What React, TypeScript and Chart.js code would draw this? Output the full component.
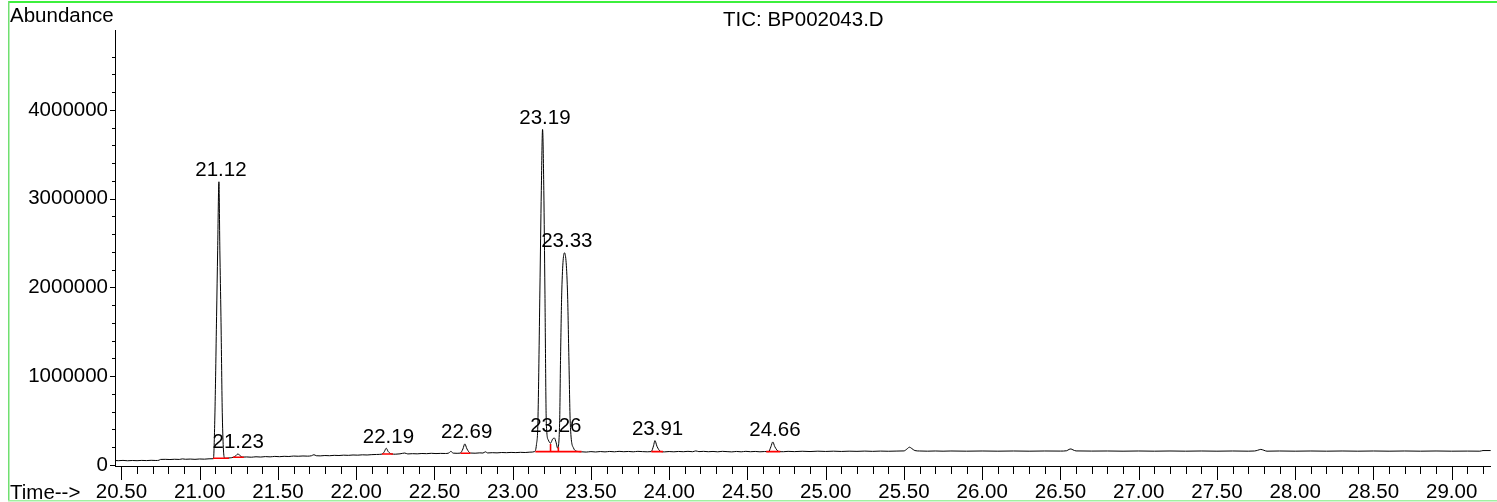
import React, { useEffect, useRef } from 'react';
import { Chart, registerables } from 'chart.js';

Chart.register(...registerables);

const FONT = '"Liberation Sans", Arial, Helvetica, sans-serif';
const FS = 20.5;

// ---- axis ranges / tick labels ----
const X_MIN = 20.459;
const X_MAX = 29.25;
const Y_MIN = -12000;
const Y_MAX = 4900000;
const X_TICK_LABELS = ['20.50', '21.00', '21.50', '22.00', '22.50', '23.00', '23.50', '24.00', '24.50', '25.00', '25.50', '26.00', '26.50', '27.00', '27.50', '28.00', '28.50', '29.00'];
const Y_TICK_LABELS = ['0', '1000000', '2000000', '3000000', '4000000'];

// ---- TIC trace: [time (min), abundance] ----
const TRACE_POINTS: [number, number][] = [
  [20.459, 50000], [20.48, 48000], [20.51, 51000], [20.54, 47000], [20.57, 50000], [20.60, 48000],
  [20.63, 51000], [20.66, 49000], [20.69, 52000], [20.72, 50000], [20.74, 53000], [20.75, 62000],
  [20.78, 63000], [20.81, 61000], [20.84, 64000], [20.87, 62000], [20.89, 68000], [20.91, 64000],
  [20.94, 66000], [20.97, 63000], [21.00, 67000], [21.03, 65000], [21.06, 69000], [21.088, 70000],
  [21.097, 540000], [21.108, 1670000], [21.115, 2420000], [21.123, 3190000], [21.129, 2420000],
  [21.136, 1670000], [21.145, 540000], [21.159, 75000],
  [21.175, 76000], [21.195, 80000], [21.215, 86000], [21.232, 105000], [21.245, 124000], [21.258, 104000],
  [21.275, 88000], [21.30, 90000], [21.33, 87000], [21.36, 92000], [21.39, 89000], [21.42, 94000],
  [21.45, 91000], [21.48, 96000], [21.51, 93000], [21.54, 97000], [21.57, 95000], [21.60, 100000],
  [21.63, 98000], [21.66, 101000], [21.69, 99000], [21.715, 104000], [21.73, 115000], [21.745, 104000],
  [21.77, 102000], [21.80, 106000], [21.83, 104000], [21.86, 108000], [21.89, 106000], [21.92, 110000],
  [21.95, 108000], [21.98, 112000], [22.01, 110000], [22.04, 114000], [22.07, 112000], [22.10, 116000],
  [22.13, 118000], [22.165, 122000], [22.180, 150000], [22.192, 188000], [22.205, 150000], [22.225, 124000],
  [22.25, 121000], [22.28, 125000], [22.31, 134000], [22.33, 124000], [22.36, 127000], [22.39, 125000],
  [22.42, 129000], [22.45, 127000], [22.48, 131000], [22.51, 128000], [22.54, 130000], [22.57, 129000],
  [22.59, 133000], [22.605, 152000], [22.62, 133000], [22.645, 131000], [22.665, 133000], [22.682, 180000],
  [22.694, 237000], [22.708, 180000], [22.73, 134000], [22.76, 132000], [22.79, 136000], [22.81, 134000],
  [22.826, 148000], [22.84, 135000], [22.87, 138000], [22.90, 136000], [22.93, 140000], [22.96, 138000],
  [22.99, 141000], [23.02, 139000], [23.05, 142000], [23.08, 140000], [23.11, 144000], [23.14, 150000],
  [23.152, 230000], [23.161, 470000], [23.174, 1970000], [23.183, 3090000], [23.191, 3780000],
  [23.199, 3090000], [23.206, 1970000], [23.215, 470000], [23.228, 280000], [23.242, 245000],
  [23.255, 290000], [23.266, 304000], [23.278, 250000], [23.287, 190000], [23.300, 470000],
  [23.306, 1220000], [23.314, 1970000], [23.331, 2390000], [23.350, 1970000], [23.359, 1220000],
  [23.368, 470000], [23.389, 190000], [23.415, 152000],
  [23.44, 148000], [23.47, 145000], [23.50, 150000], [23.53, 146000], [23.56, 151000], [23.59, 147000],
  [23.62, 152000], [23.65, 148000], [23.68, 153000], [23.71, 149000], [23.74, 152000], [23.77, 148000],
  [23.80, 153000], [23.83, 150000], [23.86, 148000], [23.885, 150000], [23.900, 215000], [23.909, 274000],
  [23.922, 210000], [23.945, 152000], [23.97, 147000], [24.00, 151000], [24.03, 148000], [24.06, 152000],
  [24.09, 149000], [24.12, 153000], [24.15, 149000], [24.17, 158000], [24.19, 150000], [24.22, 153000],
  [24.25, 149000], [24.28, 152000], [24.31, 148000], [24.34, 153000], [24.37, 150000], [24.40, 147000],
  [24.43, 152000], [24.46, 148000], [24.49, 153000], [24.52, 149000], [24.55, 152000], [24.58, 148000],
  [24.61, 151000], [24.635, 150000], [24.650, 205000], [24.662, 259000], [24.675, 205000], [24.70, 152000],
  [24.73, 149000], [24.76, 153000], [24.80, 150000], [24.85, 154000], [24.90, 151000], [24.95, 155000],
  [25.00, 152000], [25.05, 155000], [25.10, 152000], [25.15, 155000], [25.20, 153000], [25.25, 156000],
  [25.30, 153000], [25.35, 156000], [25.40, 154000], [25.45, 156000], [25.50, 158000], [25.52, 180000],
  [25.535, 200000], [25.55, 185000], [25.57, 162000], [25.60, 157000], [25.65, 155000], [25.70, 157000],
  [25.75, 155000], [25.80, 157000], [25.90, 155000], [26.00, 157000], [26.10, 155000], [26.20, 157000],
  [26.30, 155000], [26.40, 157000], [26.50, 156000], [26.54, 160000], [26.555, 175000], [26.567, 180000],
  [26.58, 170000], [26.60, 158000], [26.70, 156000], [26.80, 157000], [26.90, 155000], [27.00, 157000],
  [27.10, 155000], [27.20, 157000], [27.30, 155000], [27.40, 157000], [27.50, 155000], [27.60, 157000],
  [27.70, 155000], [27.74, 157000], [27.76, 165000], [27.78, 175000], [27.80, 165000], [27.82, 155000],
  [27.90, 157000], [28.00, 155000], [28.10, 157000], [28.20, 155000], [28.30, 157000], [28.40, 155000],
  [28.50, 157000], [28.60, 155000], [28.70, 157000], [28.80, 155000], [28.90, 157000], [29.00, 155000],
  [29.10, 156000], [29.18, 155000], [29.20, 162000], [29.25, 162000],
];

// ---- integration baselines (red): [start, end, level] ----
const INTEGRATION_SEGMENTS: [number, number, number][] = [
  [21.085, 21.187, 75000], [21.212, 21.282, 87000], [22.165, 22.235, 124000], [22.667, 22.73, 132000],
  [23.145, 23.44, 150000], [23.886, 23.96, 150000], [24.62, 24.71, 150000],
];
// peak split marks: [time, low, high]
const SPLIT_MARKS: [number, number, number][] = [[23.242, 150000, 235000], [23.292, 150000, 200000]];

// ---- peak labels ----
const PEAK_LABELS = ['21.12', '21.23', '22.19', '22.69', '23.19', '23.26', '23.33', '23.91', '24.66'];
const PEAK_TIMES = [21.12, 21.23, 22.19, 22.69, 23.19, 23.26, 23.33, 23.91, 24.66];
const PEAK_TOPS = [3190000, 124000, 190000, 237000, 3780000, 304000, 2390000, 274000, 259000];

const TITLE = 'TIC: BP002043.D';
const Y_TITLE = 'Abundance';
const X_TITLE = 'Time-->';

export default function App() {
  const ref = useRef<HTMLCanvasElement>(null);

  useEffect(() => {
    const canvas = ref.current;
    if (!canvas) return;

    const xTicks: number[] = [];
    for (let i = 205; i <= 292; i++) xTicks.push(i / 10);
    const yMinor: number[] = [];
    for (let i = 0; i <= 23; i++) yMinor.push(i * 200000);
    const isMajorX = (v: number) => X_TICK_LABELS.some((l) => Math.abs(Number(l) - v) < 1e-6);

    const redData: any[] = [];
    INTEGRATION_SEGMENTS.forEach(([a, b, lv]) => {
      redData.push({ x: a, y: lv }, { x: b, y: lv }, { x: b, y: null });
    });
    SPLIT_MARKS.forEach(([t, lo, hi]) => {
      redData.push({ x: t, y: lo }, { x: t, y: hi }, { x: t, y: null });
    });

    const decor = {
      id: 'decor',
      beforeDraw(chart: any) {
        const ctx = chart.ctx;
        ctx.save();
        ctx.fillStyle = '#ffffff';
        ctx.fillRect(0, 0, chart.width, chart.height);
        // green frame
        ctx.fillStyle = '#3cf03c';
        ctx.fillRect(8, 1, chart.width - 8, 2);
        ctx.fillStyle = '#70e070';
        ctx.fillRect(8, 1, 1.5, 500);
        ctx.fillStyle = '#a0f0a0';
        ctx.fillRect(8, 500, chart.width - 8, 1.5);
        ctx.restore();
      },
      afterDraw(chart: any) {
        const ctx = chart.ctx;
        const xs = chart.scales.x;
        const ys = chart.scales.y;
        const area = chart.chartArea;
        ctx.save();
        ctx.strokeStyle = '#000';
        ctx.lineWidth = 1;
        ctx.beginPath();
        xTicks.forEach((v) => {
          const px = Math.round(xs.getPixelForValue(v)) + 0.5;
          const len = isMajorX(v) ? 14 : 8;
          ctx.moveTo(px, area.bottom);
          ctx.lineTo(px, area.bottom + len);
        });
        yMinor.forEach((v, i) => {
          const py = Math.round(ys.getPixelForValue(v)) + 0.5;
          const len = i % 5 === 0 ? 5 : 3;
          ctx.moveTo(area.left, py);
          ctx.lineTo(area.left - len, py);
        });
        ctx.stroke();

        ctx.fillStyle = '#000';
        ctx.font = `${FS}px ${FONT}`;
        ctx.textBaseline = 'alphabetic';
        ctx.textAlign = 'left';
        ctx.fillText(Y_TITLE, 10, 22);
        ctx.fillText(TITLE, 723, 25.5);
        ctx.fillText(X_TITLE, 10, 499);

        ctx.textAlign = 'center';
        PEAK_LABELS.forEach((lab, i) => {
          const px = xs.getPixelForValue(PEAK_TIMES[i]) + 2.5;
          const py = ys.getPixelForValue(PEAK_TOPS[i]) - 5.5;
          ctx.fillText(lab, px, py);
        });
        ctx.restore();
      },
    };

    const chart = new Chart(canvas, {
      type: 'line',
      data: {
        datasets: [
          {
            data: redData,
            borderColor: '#ff0000',
            borderWidth: 1.6,
            pointRadius: 0,
            tension: 0,
            spanGaps: false,
            fill: false,
          },
          {
            data: TRACE_POINTS.map(([x, y]) => ({ x, y })),
            borderColor: '#000000',
            borderWidth: 1,
            pointRadius: 0,
            cubicInterpolationMode: 'monotone',
            fill: false,
          },
        ],
      },
      options: {
        animation: false,
        responsive: false,
        events: [],
        layout: { padding: { top: 30, right: 2, left: 0, bottom: 0 } },
        plugins: {
          legend: { display: false },
          tooltip: { enabled: false },
          title: { display: false },
        },
        scales: {
          x: {
            type: 'linear',
            min: X_MIN,
            max: X_MAX,
            grid: { display: false, drawTicks: false },
            border: { display: true, color: '#000', width: 1 },
            ticks: {
              autoSkip: false,
              maxRotation: 0,
              minRotation: 0,
              padding: 14,
              color: '#000',
              font: { family: FONT, size: FS },
              callback: (v: any) => {
                const l = X_TICK_LABELS.find((s) => Math.abs(Number(s) - Number(v)) < 1e-6);
                return l ?? '';
              },
            },
            afterBuildTicks: (s: any) => {
              s.ticks = xTicks.map((v) => ({ value: v }));
            },
            afterFit: (s: any) => {
              s.height = 36;
            },
          },
          y: {
            type: 'linear',
            min: Y_MIN,
            max: Y_MAX,
            grid: { display: false, drawTicks: false },
            border: { display: true, color: '#000', width: 1 },
            ticks: {
              padding: 7,
              color: '#000',
              font: { family: FONT, size: FS },
              callback: (v: any) => {
                const l = Y_TICK_LABELS.find((s) => Math.abs(Number(s) - Number(v)) < 1);
                return l ?? '';
              },
            },
            afterBuildTicks: (s: any) => {
              s.ticks = Y_TICK_LABELS.map((l) => ({ value: Number(l) }));
            },
            afterFit: (s: any) => {
              s.width = 115;
            },
          },
        },
      },
      plugins: [decor],
    } as any);

    return () => chart.destroy();
  }, []);

  return (
    <div style={{ position: 'absolute', left: 0, top: 0, width: 1497, height: 502, background: '#fff' }}>
      <canvas ref={ref} width={1497} height={502} style={{ display: 'block', width: 1497, height: 502 }} />
    </div>
  );
}
